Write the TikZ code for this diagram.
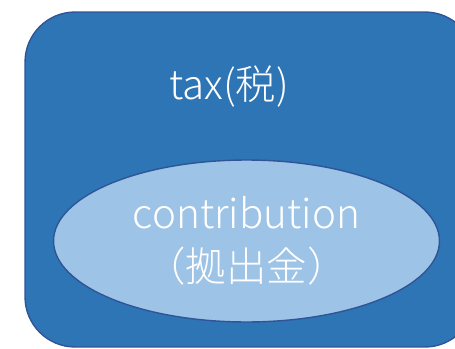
\documentclass[tikz,border=0pt]{standalone}
\usepackage{fontspec}
\setmainfont{Noto Sans CJK JP}[UprightFont=* Light]
\usetikzlibrary{shapes.geometric}
\definecolor{taxFill}{HTML}{2E75B6}
\definecolor{taxLine}{HTML}{2F5597}
\definecolor{contribFill}{HTML}{9DC3E6}
\tikzset{
  taxbox/.style={draw=taxLine, fill=taxFill, line width=0.8pt, rounded corners=1cm,
    minimum width=9cm, minimum height=6.7cm, inner sep=0pt},
  contribbox/.style={ellipse, draw=taxLine, fill=contribFill, line width=0.8pt,
    minimum width=7.72cm, minimum height=3.24cm, inner sep=0pt, align=center,
    text=white, font=\fontsize{23}{30}\selectfont},
  label text/.style={text=white, font=\fontsize{23}{30}\selectfont, inner sep=0pt}
}

\begin{document}
\begin{tikzpicture}[x=0.02cm, y=-0.02cm]
    \clip (0,0) rectangle (455,348);
    \node [taxbox] (tax) at (250,179.5) {};
    \node [label text] (taxlabel) at (229,87) {tax(税)};
    \node [contribbox] (contrib) at (246.5,241) {contribution\\（拠出金）};
  \end{tikzpicture}
\end{document}
